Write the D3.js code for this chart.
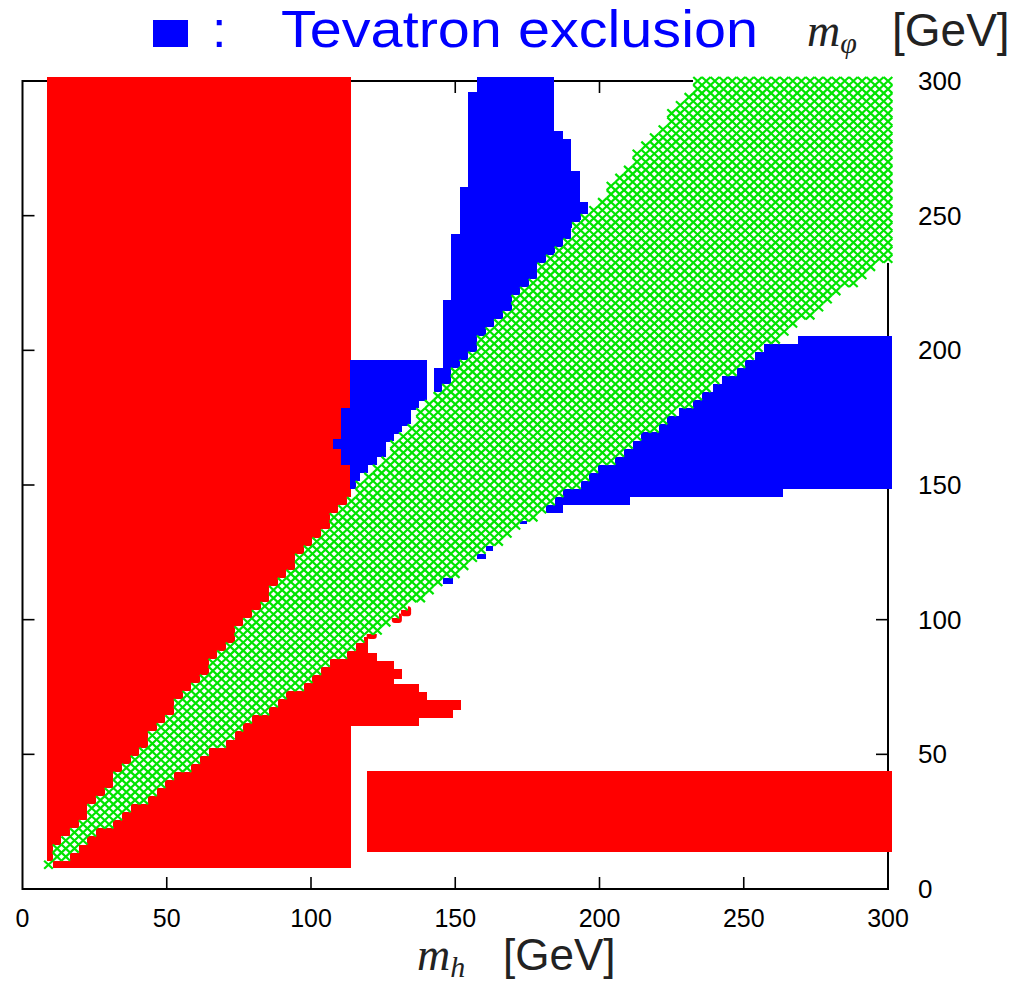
<!DOCTYPE html>
<html>
<head>
<meta charset="utf-8">
<script src="https://cdn.jsdelivr.net/npm/d3@7"></script>
<style>
  html, body { margin: 0; padding: 0; background: #fff; }
  svg { display: block; }
</style>
</head>
<body>
<svg id="chart" width="1020" height="982"></svg>
<script>
// Axis ticks (GeV)
const xTicks = [0, 50, 100, 150, 200, 250, 300];
const yTicks = [0, 50, 100, 150, 200, 250, 300];

// Scan grid spacing of the parameter scan (GeV)
const scanStep = 3;

// Allowed band (green): polygon in (m_h, m_phi)
const allowedBand = [[7.5, 5.84], [301.5, 234.9], [301.5, 301.5], [234.9, 301.5], [5.84, 7.5]];

// Excluded regions, as horizontal runs: [mPhiLow, mPhiHigh, mhLow, mhHigh]
const redRuns = [
  [7.9, 301.5, 8.5, 113.8],
  [13.9, 43.8, 119.3, 301.5],
  [60.6, 63.6, 108, 137.4],
  [63.6, 66.6, 108, 149.2],
  [66.6, 70.2, 108, 152.0],
  [70.2, 73.2, 108, 140.2],
  [73.2, 76.1, 108, 137.4],
  [76.1, 78.1, 108, 128.8],
  [78.1, 81.7, 108, 131.4],
  [81.7, 84.7, 108, 128.8],
  [84.7, 87.5, 108, 122.8],
  [87.5, 93.5, 108, 119.8]
];
// Isolated red scan points along the band edge
const redPoints = [
  [92.8, 96.5, 119.3, 122.8],
  [98.8, 102.4, 128.0, 131.5],
  [101.3, 105.0, 131.2, 134.7]
];

const blueRuns = [
  // upper spike
  [296.0, 301.5, 157.6, 184.3],
  [281.5, 296.0, 154.5, 184.3],
  [278.5, 281.5, 154.5, 187.2],
  [266.6, 278.5, 154.5, 190.0],
  [260.7, 266.6, 154.5, 193.1],
  [255.0, 260.7, 151.6, 193.1],
  [248.5, 255.0, 151.6, 195.9],
  [245.3, 248.5, 151.6, 193.1],
  [243.2, 245.3, 151.6, 190.0],
  [239.5, 243.2, 148.5, 190.0],
  [236.3, 239.5, 148.5, 187.2],
  [233.6, 236.3, 148.5, 184.2],
  [230.6, 233.6, 148.5, 183.7],
  [227.6, 230.6, 148.5, 181.4],
  [224.6, 227.6, 148.5, 179.0],
  [221.6, 224.6, 148.5, 176.7],
  [218.7, 221.6, 148.5, 174.3],
  [215.6, 218.7, 145.9, 172.1],
  [212.6, 215.6, 145.9, 169.7],
  [209.6, 212.6, 145.9, 167.3],
  [206.6, 209.6, 145.9, 165.0],
  [203.9, 206.6, 145.9, 162.6],
  [198.3, 203.9, 145.9, 157.9],
  [195.6, 198.3, 145.9, 155.1],
  [193.4, 195.6, 145.9, 152.0],
  [192.7, 193.4, 142.6, 152.0],
  [186.9, 192.7, 142.6, 149.2],
  [184.1, 186.9, 142.6, 146.1],
  // patch next to the red block
  [148.5, 154.4, 113.5, 117.0],
  [154.4, 157.3, 113.5, 119.9],
  [157.3, 160.3, 110.4, 123.0],
  [160.3, 163.4, 110.4, 125.9],
  [163.4, 166.0, 107.6, 125.9],
  [166.0, 167.1, 107.6, 128.8],
  [167.1, 169.0, 110.4, 128.8],
  [169.0, 172.0, 110.4, 131.5],
  [172.0, 177.9, 110.4, 134.6],
  [177.9, 178.7, 110.4, 137.4],
  [178.7, 181.3, 113.5, 137.4],
  [181.3, 196.4, 113.5, 140.1],
  // right-hand band
  [202.5, 205.5, 268.8, 301.5],
  [199.5, 202.5, 257.0, 301.5],
  [196.5, 199.5, 254.0, 301.5],
  [193.5, 196.5, 248.4, 301.5],
  [190.5, 193.5, 245.2, 301.5],
  [187.5, 190.5, 242.5, 301.5],
  [184.5, 187.5, 239.3, 301.5],
  [181.5, 184.5, 233.5, 301.5],
  [178.5, 181.5, 230.7, 301.5],
  [175.5, 178.5, 227.6, 301.5],
  [172.5, 175.5, 222.1, 301.5],
  [169.5, 172.5, 218.9, 301.5],
  [166.5, 169.5, 213.0, 301.5],
  [163.5, 166.5, 210.2, 301.5],
  [160.5, 163.5, 207.1, 301.5],
  [157.5, 160.5, 204.3, 301.5],
  [154.5, 157.5, 198.4, 301.5],
  [151.5, 154.5, 195.3, 301.5],
  [148.5, 151.5, 192.6, 301.5],
  [145.5, 148.5, 186.7, 263.6],
  [142.5, 145.5, 183.9, 210.7],
  [139.5, 142.5, 180.8, 187.4],
  // isolated points
  [135.5, 138.5, 171.8, 174.9],
  [125.5, 128.5, 160.0, 163.0],
  [122.5, 125.5, 157.5, 160.7],
  [113.4, 117.0, 145.9, 149.2]
];

const svg = d3.select("#chart");
const x = d3.scaleLinear().domain([0, 300]).range([22.5, 888]);
const y = d3.scaleLinear().domain([0, 300]).range([889, 81]);

const RED = "#ff0000", BLUE = "#0000ff", GREEN = "#00e400";
const sansFont = "Liberation Sans, Arial, sans-serif";
const mathFont = "Liberation Serif, Times New Roman, serif";

// ---- frame and ticks ----
const frame = svg.append("g");
frame.append("rect")
  .attr("x", x(0)).attr("y", y(300))
  .attr("width", x(300) - x(0)).attr("height", y(0) - y(300))
  .attr("fill", "none").attr("stroke", "#000").attr("stroke-width", 2);

const tickLen = 12;
const innerX = xTicks.filter(d => d > 0 && d < 300);
const innerY = yTicks.filter(d => d > 0 && d < 300);
frame.selectAll(".tb").data(innerX).join("line")
  .attr("x1", d => x(d)).attr("x2", d => x(d))
  .attr("y1", y(0)).attr("y2", y(0) - tickLen)
  .attr("stroke", "#000").attr("stroke-width", 1.6);
frame.selectAll(".tt").data(innerX).join("line")
  .attr("x1", d => x(d)).attr("x2", d => x(d))
  .attr("y1", y(300)).attr("y2", y(300) + tickLen)
  .attr("stroke", "#000").attr("stroke-width", 1.6);
frame.selectAll(".tl").data(innerY).join("line")
  .attr("y1", d => y(d)).attr("y2", d => y(d))
  .attr("x1", x(0)).attr("x2", x(0) + tickLen)
  .attr("stroke", "#000").attr("stroke-width", 1.6);
frame.selectAll(".tr").data(innerY).join("line")
  .attr("y1", d => y(d)).attr("y2", d => y(d))
  .attr("x1", x(300)).attr("x2", x(300) - tickLen)
  .attr("stroke", "#000").attr("stroke-width", 1.6);

// ---- excluded regions ----
const runs = (g, data, fill, rx) => g.selectAll("rect").data(data).join("rect")
  .attr("x", d => x(d[2]))
  .attr("y", d => y(d[1]))
  .attr("width", d => x(d[3]) - x(d[2]))
  .attr("height", d => y(d[0]) - y(d[1]))
  .attr("rx", rx)
  .attr("fill", fill);

runs(svg.append("g").attr("shape-rendering", "crispEdges"), redRuns, RED, 0);
runs(svg.append("g"), redPoints, RED, 3);
runs(svg.append("g").attr("shape-rendering", "crispEdges"), blueRuns, BLUE, 0);

// ---- allowed band: scan points marked with crosses ----
const grid = [];
for (const mh of d3.range(0, 300 + 0.01, scanStep)) {
  for (const mp of d3.range(0, 300 + 0.01, scanStep)) {
    if (d3.polygonContains(allowedBand, [mh, mp])) grid.push([mh, mp]);
  }
}
const hx = (x(scanStep) - x(0)) / 2;
const hy = (y(0) - y(scanStep)) / 2;
svg.append("g").attr("shape-rendering", "crispEdges")
  .selectAll("rect").data(grid).join("rect")
  .attr("x", d => x(d[0]) - hx)
  .attr("y", d => y(d[1]) - hy)
  .attr("width", 2 * hx)
  .attr("height", 2 * hy)
  .attr("fill", "#fff");
svg.append("g").selectAll("path").data(grid).join("path")
  .attr("d", d => {
    const cx = x(d[0]), cy = y(d[1]);
    return `M${cx - hx},${cy - hy}L${cx + hx},${cy + hy}M${cx - hx},${cy + hy}L${cx + hx},${cy - hy}`;
  })
  .attr("stroke", GREEN).attr("stroke-width", 2.2).attr("fill", "none");

// ---- tick labels ----
svg.append("g").selectAll("text").data(xTicks).join("text")
  .attr("x", d => x(d)).attr("y", 927)
  .attr("text-anchor", "middle")
  .attr("font-family", sansFont)
  .attr("font-size", 25)
  .text(d => d);
svg.append("g").selectAll("text").data(yTicks).join("text")
  .attr("x", 918).attr("y", d => y(d) + 9)
  .attr("text-anchor", "start")
  .attr("font-family", sansFont)
  .attr("font-size", 26)
  .text(d => d);

// ---- axis titles ----
const xt = svg.append("text").attr("x", 417).attr("y", 970).attr("fill", "#222");
xt.append("tspan").attr("font-family", mathFont).attr("font-style", "italic").attr("font-size", 46).text("m");
xt.append("tspan").attr("font-family", mathFont).attr("font-style", "italic").attr("font-size", 30).attr("dy", 7).text("h");
xt.append("tspan").attr("font-family", sansFont).attr("font-size", 44).attr("dy", -7).attr("x", 503).text("[GeV]");

const yt = svg.append("text").attr("x", 807).attr("y", 46).attr("fill", "#222");
yt.append("tspan").attr("font-family", mathFont).attr("font-style", "italic").attr("font-size", 46).text("m");
yt.append("tspan").attr("font-family", mathFont).attr("font-style", "italic").attr("font-size", 30).attr("dy", 7).text("φ");
yt.append("tspan").attr("font-family", sansFont).attr("font-size", 46).attr("dy", -7).attr("x", 892).text("[GeV]");

// ---- legend ----
svg.append("rect").attr("x", 153).attr("y", 20).attr("width", 35).attr("height", 27).attr("fill", BLUE);
svg.append("text").attr("x", 212).attr("y", 47)
  .attr("font-family", sansFont).attr("font-size", 52).attr("fill", BLUE).text(":");
svg.append("text").attr("x", 281).attr("y", 47)
  .attr("font-family", sansFont).attr("font-size", 52).attr("fill", BLUE)
  .attr("textLength", 477).attr("lengthAdjust", "spacingAndGlyphs")
  .text("Tevatron exclusion");
</script>
</body>
</html>
